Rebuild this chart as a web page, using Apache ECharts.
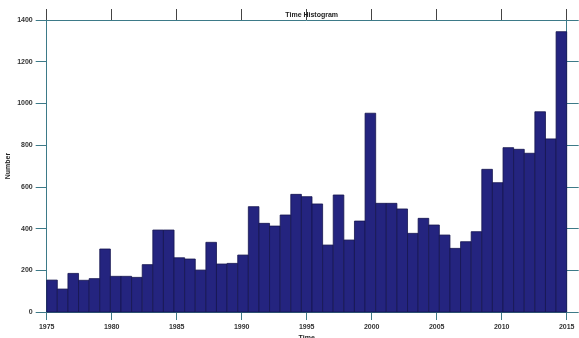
<!DOCTYPE html>
<html>
<head>
<meta charset="utf-8">
<script src="https://cdn.jsdelivr.net/npm/echarts@6/dist/echarts.min.js"></script>
<style>
html,body{margin:0;padding:0;background:#fff;}
#chart{width:579px;height:338px;}
</style>
</head>
<body>
<div id="chart"></div>
<script>
// Histogram of counts over time, 49 equal-width bins from 1975 to 2015
const rangeStart = 1975;
const rangeEnd = 2015;
const counts = [153, 110, 185, 152, 160, 302, 171, 171, 166, 227,
                393, 393, 260, 254, 201, 334, 230, 233, 273, 505,
                425, 412, 465, 564, 553, 518, 321, 561, 345, 436,
                953, 521, 521, 494, 377, 449, 417, 369, 305, 337,
                385, 684, 620, 788, 780, 761, 960, 830, 1344];
const yTicks = [0, 200, 400, 600, 800, 1000, 1200, 1400];
const xTicks = [1975, 1980, 1985, 1990, 1995, 2000, 2005, 2010, 2015];
const titleText = 'Time Histogram';
const xName = 'Time';
const yName = 'Number';

const binW = (rangeEnd - rangeStart) / counts.length;
const data = counts.map((v, i) => [rangeStart + i * binW, rangeStart + (i + 1) * binW, v]);

const axisColor = '#3d7a88';
const fontFam = 'Liberation Sans, Arial, sans-serif';
const labelStyle = {color: '#333', fontSize: 7, fontWeight: 'bold', fontFamily: fontFam};

const chart = echarts.init(document.getElementById('chart'), null, {renderer: 'canvas'});
chart.setOption({
  animation: false,
  backgroundColor: '#fff',
  title: {
    text: titleText, left: 306.7, top: 7, textAlign: 'center',
    textStyle: {fontSize: 7, fontWeight: 'bold', color: '#222', fontFamily: fontFam}
  },
  grid: {left: 46.7, right: 12.3, top: 20, bottom: 26, containLabel: false, outerBoundsMode: 'none'},
  xAxis: [{
    type: 'value', min: rangeStart, max: rangeEnd, interval: 5, position: 'bottom',
    name: xName, nameLocation: 'middle', nameGap: 23, nameMoveOverlap: false,
    nameTextStyle: {fontSize: 7, fontWeight: 'bold', color: '#222', verticalAlign: 'top', fontFamily: fontFam},
    axisLine: {show: true, onZero: false, lineStyle: {color: axisColor, width: 1}},
    axisTick: {show: true, length: 8, lineStyle: {color: axisColor}},
    axisLabel: Object.assign({margin: 12, formatter: v => xTicks.includes(v) ? String(v) : ''}, labelStyle),
    splitLine: {show: false}
  }, {
    type: 'value', min: rangeStart, max: rangeEnd, interval: 5, position: 'top',
    axisLine: {show: true, onZero: false, lineStyle: {color: axisColor, width: 1}},
    axisTick: {show: true, length: 11, lineStyle: {color: '#444'}},
    axisLabel: {show: false},
    splitLine: {show: false}
  }],
  yAxis: [{
    type: 'value', min: 0, max: 1400, interval: 200, position: 'left',
    name: yName, nameLocation: 'middle', nameGap: 35, nameRotate: 90, nameMoveOverlap: false,
    nameTextStyle: {fontSize: 7, fontWeight: 'bold', color: '#222', fontFamily: fontFam},
    axisLine: {show: true, onZero: false, lineStyle: {color: axisColor, width: 1}},
    axisTick: {show: true, length: 11, lineStyle: {color: axisColor}},
    axisLabel: Object.assign({margin: 14, formatter: v => yTicks.includes(v) ? String(v) : ''}, labelStyle),
    splitLine: {show: false}
  }, {
    type: 'value', min: 0, max: 1400, interval: 200, position: 'right',
    axisLine: {show: true, onZero: false, lineStyle: {color: axisColor, width: 1}},
    axisTick: {show: true, length: 12, lineStyle: {color: axisColor}},
    axisLabel: {show: false},
    splitLine: {show: false}
  }],
  series: [{
    type: 'custom',
    xAxisIndex: 0, yAxisIndex: 0,
    data: data,
    encode: {x: [0, 1], y: 2},
    renderItem: function (params, api) {
      const p0 = api.coord([api.value(0), 0]);
      const p1 = api.coord([api.value(1), api.value(2)]);
      return {
        type: 'rect',
        shape: {x: p0[0], y: p1[1], width: p1[0] - p0[0], height: p0[1] - p1[1]},
        style: {fill: '#24247f', stroke: '#15154f', lineWidth: 0.8}
      };
    }
  }]
});
</script>
</body>
</html>
